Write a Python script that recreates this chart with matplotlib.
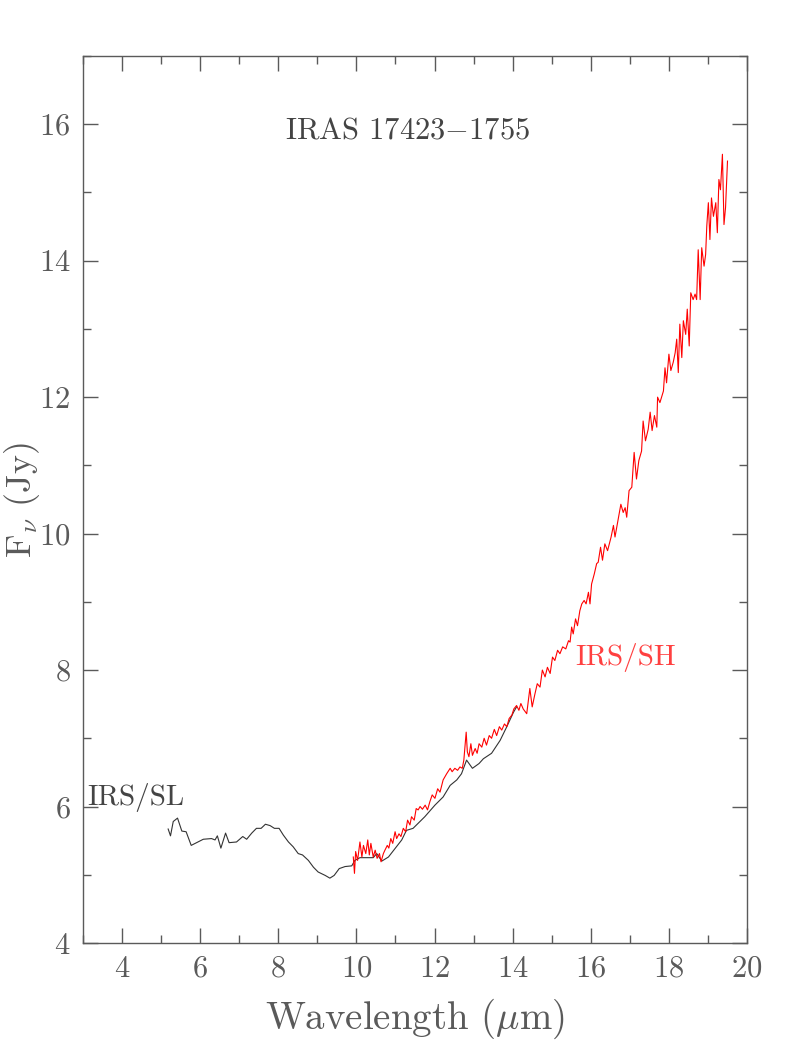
import numpy as np
import matplotlib
matplotlib.use('Agg')
import matplotlib.pyplot as plt
from matplotlib.ticker import MultipleLocator

plt.rcParams['font.family'] = 'cmr10'
plt.rcParams['mathtext.fontset'] = 'cm'
plt.rcParams['axes.formatter.use_mathtext'] = True

# IRS/SL spectrum (black)
sl_wave = [5.18, 5.24, 5.31, 5.42, 5.53, 5.64, 5.77, 6.08, 6.29, 6.38, 6.44, 6.53, 6.65, 6.74,
           6.93, 7.09, 7.19, 7.32, 7.44, 7.56, 7.67, 7.79, 7.90, 8.02, 8.13, 8.26, 8.38, 8.51,
           8.62, 8.77, 8.90, 9.02, 9.20, 9.32, 9.43, 9.56, 9.71, 9.88, 9.96, 10.09, 10.43, 10.52,
           10.65, 10.82, 11.16, 11.28, 11.45, 11.75, 12.01, 12.22, 12.40, 12.57, 12.69, 12.82,
           12.97, 13.14, 13.25, 13.46, 13.68, 13.85, 14.02, 14.10]
sl_flux = [5.67, 5.57, 5.78, 5.83, 5.64, 5.63, 5.43, 5.52, 5.53, 5.51, 5.57, 5.39, 5.61, 5.47,
           5.48, 5.56, 5.52, 5.61, 5.68, 5.68, 5.74, 5.72, 5.68, 5.68, 5.58, 5.48, 5.41, 5.31,
           5.29, 5.21, 5.11, 5.04, 4.99, 4.95, 4.99, 5.09, 5.12, 5.13, 5.21, 5.25, 5.25, 5.31,
           5.20, 5.26, 5.51, 5.65, 5.68, 5.85, 6.02, 6.14, 6.31, 6.39, 6.48, 6.68,
           6.56, 6.63, 6.70, 6.78, 6.97, 7.17, 7.38, 7.46]

# IRS/SH spectrum (red)
sh_wave = [9.92, 9.95, 9.98, 10.03, 10.09, 10.14, 10.18, 10.24, 10.29, 10.33, 10.37, 10.43,
           10.48, 10.53, 10.59, 10.63, 10.69, 10.73, 10.79, 10.83, 10.88, 10.93, 10.99, 11.03,
           11.09, 11.14, 11.20, 11.26, 11.31, 11.37, 11.41, 11.48, 11.53, 11.58, 11.63, 11.69,
           11.76, 11.82, 11.88, 11.94, 12.01, 12.08, 12.14, 12.22, 12.31, 12.40, 12.45, 12.52,
           12.59, 12.65, 12.71, 12.75, 12.81, 12.84, 12.88, 12.93, 12.97, 13.04, 13.09, 13.14,
           13.21, 13.27, 13.33, 13.40, 13.46, 13.53, 13.59, 13.66, 13.72, 13.79, 13.85, 13.91,
           13.98, 14.03, 14.10, 14.16, 14.21, 14.27, 14.36, 14.44, 14.50, 14.57, 14.63, 14.70,
           14.76, 14.83, 14.89, 14.96, 15.02, 15.08, 15.15, 15.21, 15.28, 15.36, 15.43, 15.47,
           15.51, 15.55, 15.61, 15.66, 15.72, 15.77, 15.83, 15.88, 15.94, 15.98, 16.02, 16.09,
           16.15, 16.19, 16.25, 16.30, 16.36, 16.43, 16.52, 16.58, 16.62, 16.70, 16.77, 16.83,
           16.88, 16.92, 16.98, 17.05, 17.11, 17.17, 17.23, 17.30, 17.34, 17.40, 17.47, 17.52,
           17.57, 17.63, 17.69, 17.71, 17.77, 17.86, 17.90, 17.94, 18.00, 18.05, 18.11, 18.16,
           18.20, 18.24, 18.28, 18.33, 18.37, 18.43, 18.47, 18.52, 18.56, 18.62, 18.67, 18.71,
           18.75, 18.80, 18.84, 18.90, 18.94, 18.97, 19.01, 19.05, 19.09, 19.14, 19.20, 19.24,
           19.28, 19.32, 19.37, 19.41, 19.45, 19.50]
sh_flux = [5.26, 5.02, 5.34, 5.21, 5.48, 5.26, 5.43, 5.31, 5.51, 5.29, 5.46, 5.26,
           5.36, 5.24, 5.31, 5.19, 5.31, 5.36, 5.43, 5.39, 5.53, 5.46, 5.63, 5.53,
           5.60, 5.56, 5.68, 5.63, 5.80, 5.73, 5.85, 5.80, 5.97, 5.95, 6.00, 5.96,
           6.02, 5.95, 6.07, 6.17, 6.12, 6.26, 6.21, 6.39, 6.48, 6.56, 6.51, 6.56,
           6.53, 6.58, 6.56, 6.68, 7.09, 6.80, 6.73, 6.92, 6.75, 6.85, 6.78, 6.92,
           6.87, 7.00, 6.90, 7.04, 7.00, 7.13, 7.04, 7.17, 7.12, 7.21, 7.17, 7.29,
           7.34, 7.43, 7.48, 7.41, 7.51, 7.43, 7.36, 7.73, 7.46, 7.65, 7.80, 7.75,
           8.00, 7.90, 8.04, 7.95, 8.19, 8.14, 8.29, 8.24, 8.34, 8.31, 8.43, 8.41,
           8.63, 8.53, 8.75, 8.65, 8.87, 8.97, 9.02, 8.97, 9.14, 8.97, 9.26, 9.41,
           9.56, 9.58, 9.80, 9.61, 9.85, 9.75, 9.95, 10.12, 9.95, 10.21, 10.43, 10.31,
           10.38, 10.24, 10.63, 10.68, 11.19, 10.80, 11.07, 11.21, 11.65, 11.36, 11.53, 11.78,
           11.51, 11.73, 11.56, 12.00, 11.92, 12.09, 12.43, 12.21, 12.63, 12.39, 12.51, 12.65,
           12.85, 12.36, 13.07, 12.58, 13.12, 12.92, 13.29, 12.75, 13.53, 13.43, 13.51, 13.43,
           14.16, 13.43, 14.19, 13.92, 14.09, 14.51, 14.85, 14.31, 14.92, 14.65, 14.85, 14.41,
           15.19, 15.04, 15.56, 14.53, 14.78, 15.46]

grey = '#5a5a5a'
text_grey = '#444444'

fig = plt.figure(figsize=(7.89, 10.51), dpi=100)
ax = fig.add_axes([0.1052, 0.1028, 0.8416, 0.8439])

ax.plot(sl_wave, sl_flux, '-', color='#333333', lw=0.8)
ax.plot(sh_wave, sh_flux, '-', color='red', lw=0.8)

ax.set_xlim(3, 20)
ax.set_ylim(4, 17)
ax.xaxis.set_major_locator(MultipleLocator(2))
ax.xaxis.set_minor_locator(MultipleLocator(1))
ax.yaxis.set_major_locator(MultipleLocator(2))
ax.yaxis.set_minor_locator(MultipleLocator(1))
ax.tick_params(which='both', direction='in', top=True, right=True, colors=grey,
               labelsize=22, width=1)
ax.tick_params(which='major', length=11, pad=9)
ax.tick_params(which='minor', length=6)
for s in ax.spines.values():
    s.set_color(grey)
    s.set_linewidth(1)

ax.set_xlabel(r'Wavelength ($\mu$m)', fontsize=28, color=grey, labelpad=10)
ax.set_ylabel(r'F$_\nu$ (Jy)', fontsize=26, color=grey)
ax.yaxis.set_label_coords(-0.062, 0.5)

ax.text(11.3, 15.9, r'IRAS 17423$-$1755', fontsize=22, color=text_grey,
        ha='center', va='center')
ax.text(3.1, 6.13, 'IRS/SL', fontsize=21, color=text_grey, ha='left', va='center')
ax.text(15.6, 8.19, 'IRS/SH', fontsize=21, color='#ff4040', ha='left', va='center')

fig.savefig('out.png', dpi=100)
